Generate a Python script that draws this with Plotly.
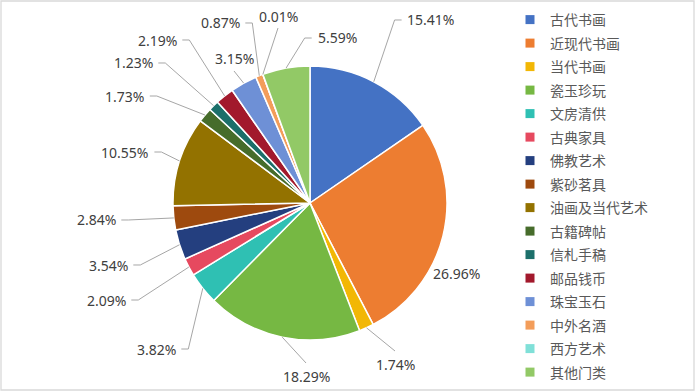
import math
import plotly.graph_objects as go

# ---------------- data ----------------
categories = ["古代书画", "近现代书画", "当代书画", "瓷玉珍玩", "文房清供", "古典家具",
              "佛教艺术", "紫砂茗具", "油画及当代艺术", "古籍碑帖", "信札手稿", "邮品钱币",
              "珠宝玉石", "中外名酒", "西方艺术", "其他门类"]
shares = [15.41, 26.96, 1.74, 18.29, 3.82, 2.09, 3.54, 2.84, 10.55, 1.73, 1.23, 2.19,
          3.15, 0.87, 0.01, 5.59]
label_texts = ["15.41%", "26.96%", "1.74%", "18.29%", "3.82%", "2.09%", "3.54%", "2.84%",
               "10.55%", "1.73%", "1.23%", "2.19%", "3.15%", "0.87%", "0.01%", "5.59%"]

# ---------------- styles / layout ----------------
colors = ["#4472C4", "#ED7D31", "#F2B705", "#76B843", "#2FC0B3", "#E6495F",
          "#243F7F", "#9E4A0E", "#937200", "#466C2B", "#1C6F6A", "#A2192C",
          "#6E90D6", "#F39D5A", "#80E0D8", "#92C966"]

W, H = 696, 392
CX, CY, R = 310, 203, 137          # pie centre / radius in pixels

# label placement (pixel centre, side where leader attaches)
label_layout = [(431, 20, "l"), (456, 273, "n"), (395, 364, "t"), (306, 376, "t"),
                (156, 349, "r"), (106, 300, "r"), (108, 265, "r"), (96, 220, "r"),
                (125, 152, "r"), (124.5, 96, "r"), (133, 63, "r"), (157, 40, "r"),
                (234, 59, "b"), (220, 23, "r"), (278, 16, "b"), (337, 38, "l")]


def px(x):
    return x / W


def py(y):
    return 1 - y / H


fig = go.Figure()

fig.add_trace(go.Pie(
    labels=categories, values=shares, sort=False, direction="clockwise", rotation=0,
    marker=dict(colors=colors, line=dict(color="white", width=1.5)),
    textinfo="none", showlegend=False,
    domain=dict(x=[px(CX - R), px(CX + R)], y=[py(CY + R), py(CY - R)]),
))

# legend entries (one group per category to get Excel-like spacing)
for name, c in zip(categories, colors):
    fig.add_trace(go.Scatter(
        x=[None], y=[None], mode="markers", name=name, legendgroup=name,
        marker=dict(symbol="square", size=9, color=c),
    ))

# labels and leader lines
total = sum(shares)
shapes = []
annotations = []
cum = 0.0
for val, txt, (lx, ly, side) in zip(shares, label_texts, label_layout):
    mid = (cum + val / 2) / total * 2 * math.pi
    cum += val
    ex = CX + R * math.sin(mid)
    ey = CY - R * math.cos(mid)
    ndig = sum(ch.isdigit() for ch in txt)
    hw = (8.2 * ndig + 16) / 2
    pts = None
    if side == "r":
        pts = [(lx + hw + 5, ly), (lx + hw + 12, ly), (ex, ey)]
    elif side == "l":
        pts = [(lx - hw - 5, ly), (lx - hw - 12, ly), (ex, ey)]
    elif side == "t":
        pts = [(lx, ly - 13), (ex, ey)]
    elif side == "b":
        pts = [(lx, ly + 12), (ex, ey)]
    if pts:
        path = "M " + " L ".join(f"{px(a):.5f},{py(b):.5f}" for a, b in pts)
        shapes.append(dict(type="path", path=path, xref="paper", yref="paper",
                           line=dict(color="#A6A6A6", width=1)))
    annotations.append(dict(x=px(lx), y=py(ly), xref="paper", yref="paper", text=txt,
                            showarrow=False, xanchor="center", yanchor="middle",
                            font=dict(family="Noto Sans, Open Sans, sans-serif",
                                      size=14, color="#404040")))

# chart border
shapes.append(dict(type="rect", xref="paper", yref="paper",
                   x0=px(1), x1=px(694), y0=py(390), y1=py(1),
                   line=dict(color="#D9D9D9", width=1.3), fillcolor="rgba(0,0,0,0)"))

fig.update_layout(
    width=W, height=H,
    margin=dict(l=0, r=0, t=0, b=0),
    paper_bgcolor="white", plot_bgcolor="white",
    xaxis=dict(visible=False), yaxis=dict(visible=False),
    shapes=shapes, annotations=annotations,
    legend=dict(x=px(510), y=py(4), xanchor="left", yanchor="top",
                tracegroupgap=2.3, traceorder="grouped",
                font=dict(family="Noto Sans CJK SC", size=14, color="#595959"),
                bgcolor="rgba(0,0,0,0)"),
)

fig.write_html("out.html",
               config={"displayModeBar": False},
               post_script="document.body.style.margin='0';"
                           "document.body.style.overflow='hidden';")
